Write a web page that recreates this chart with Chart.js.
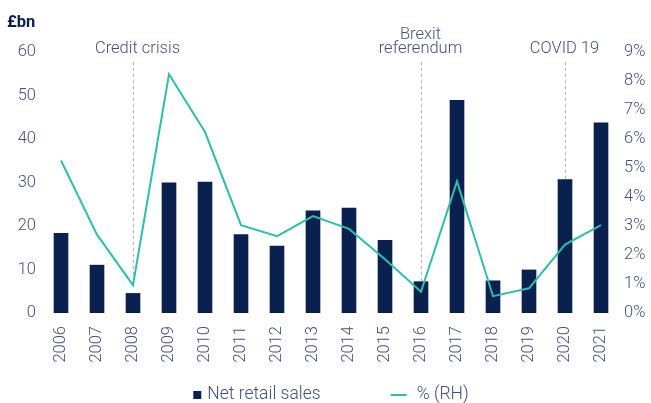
<!DOCTYPE html>
<html>
<head>
<meta charset="utf-8">
<script src="https://cdn.jsdelivr.net/npm/chart.js@4.4.1/dist/chart.umd.min.js"></script>
<style>
  html, body { margin: 0; padding: 0; background: #ffffff; }
  #wrap { width: 651px; height: 403px; position: relative; }
</style>
</head>
<body>
<div id="wrap"><canvas id="chart"></canvas></div>
<script>
// Annual net retail sales (£bn, left axis) and % of assets (right axis)
const years = ['2006', '2007', '2008', '2009', '2010', '2011', '2012', '2013',
               '2014', '2015', '2016', '2017', '2018', '2019', '2020', '2021'];
const netRetailSales = [18.3, 11.0, 4.5, 29.9, 30.1, 18.0, 15.4, 23.5,
                        24.1, 16.7, 7.2, 48.9, 7.4, 9.9, 30.7, 43.7];
const pctRH = [5.26, 2.7, 0.96, 8.23, 6.24, 3.03, 2.65, 3.34,
               2.9, 1.85, 0.73, 4.54, 0.58, 0.85, 2.36, 3.03];

const leftTicks = [0, 10, 20, 30, 40, 50, 60];
const rightTicks = [0, 1, 2, 3, 4, 5, 6, 7, 8, 9];

const eventYears = ['2008', '2016', '2020'];
const eventLabels = [['Credit crisis'], ['Brexit', 'referendum'], ['COVID 19']];

const seriesNames = ['Net retail sales', '% (RH)'];
const unitLabel = '£bn';

const NAVY = '#0a2150';
const TEAL = '#2dbfae';
const TEXT = '#42527e';
const FONT = 'Roboto, "Liberation Sans", sans-serif';
const WEIGHT = 300;

// Dashed event markers with their captions
const eventMarkers = {
  id: 'eventMarkers',
  beforeDatasetsDraw(chart) {
    const { ctx, chartArea, scales } = chart;
    const x = scales.x, yL = scales.y, yR = scales.y1;
    const captionShift = [4, -1, -1];
    ctx.save();
    eventYears.forEach((yr, i) => {
      const idx = years.indexOf(yr);
      const px = Math.round(x.getPixelForValue(idx)) + 0.5;
      const yBar = yL.getPixelForValue(netRetailSales[idx]);
      const yLine = yR.getPixelForValue(pctRH[idx]);
      const yEnd = Math.min(yBar, yLine);
      const yStart = chartArea.top + 10;
      ctx.strokeStyle = '#b3b3b3';
      ctx.lineWidth = 1;
      ctx.setLineDash([3, 3]);
      ctx.beginPath();
      ctx.moveTo(px, yStart);
      ctx.lineTo(px, yEnd);
      ctx.stroke();
      ctx.setLineDash([]);
      ctx.fillStyle = TEXT;
      ctx.font = WEIGHT + ' 16.5px ' + FONT;
      ctx.textAlign = 'center';
      ctx.textBaseline = 'middle';
      const lines = eventLabels[i];
      const lh = 14.5;
      lines.forEach((t, j) => {
        const yy = chartArea.top - 3 - (lines.length - 1 - j) * lh;
        ctx.fillText(t, px + captionShift[i], yy);
      });
    });
    ctx.restore();
  }
};

// Unit label above the left axis and the bottom legend
const extras = {
  id: 'extras',
  afterDraw(chart) {
    const { ctx, chartArea } = chart;
    ctx.save();
    ctx.fillStyle = NAVY;
    ctx.font = 'bold 16.5px ' + FONT;
    ctx.textAlign = 'left';
    ctx.textBaseline = 'middle';
    ctx.fillText(unitLabel, 7, 23);

    // legend
    ctx.font = WEIGHT + ' 17.5px ' + FONT;
    const w0 = ctx.measureText(seriesNames[0]).width;
    const w1 = ctx.measureText(seriesNames[1]).width;
    const total = 8 + 6 + w0 + 70 + 16 + 10 + w1;
    let lx = (chartArea.left + chartArea.right) / 2 - total / 2;
    const ly = 395;
    ctx.fillStyle = NAVY;
    ctx.fillRect(lx, ly - 4, 8, 8);
    lx += 14;
    ctx.fillStyle = TEXT;
    ctx.fillText(seriesNames[0], lx, ly);
    lx += w0 + 70;
    ctx.strokeStyle = TEAL;
    ctx.lineWidth = 2;
    ctx.beginPath();
    ctx.moveTo(lx, ly);
    ctx.lineTo(lx + 16, ly);
    ctx.stroke();
    lx += 26;
    ctx.fillText(seriesNames[1], lx, ly);
    ctx.restore();
  }
};

const tickFont = { family: FONT, size: 16.5, weight: WEIGHT };

new Chart(document.getElementById('chart'), {
  data: {
    labels: years,
    datasets: [
      {
        type: 'line',
        label: seriesNames[1],
        data: pctRH,
        yAxisID: 'y1',
        borderColor: TEAL,
        backgroundColor: TEAL,
        borderWidth: 2,
        pointRadius: 0,
        tension: 0,
        order: 1
      },
      {
        type: 'bar',
        label: seriesNames[0],
        data: netRetailSales,
        yAxisID: 'y',
        backgroundColor: NAVY,
        barThickness: 14,
        order: 2
      }
    ]
  },
  options: {
    responsive: true,
    maintainAspectRatio: false,
    animation: false,
    layout: { padding: { top: 52, left: 0, right: 0, bottom: 0 } },
    plugins: { legend: { display: false }, tooltip: { enabled: false } },
    scales: {
      x: {
        offset: true,
        grid: { display: false, drawTicks: false },
        border: { display: false },
        ticks: {
          color: TEXT, font: tickFont,
          minRotation: 90, maxRotation: 90, padding: 13, autoSkip: false
        },
        afterFit(s) { s.height = 90; }
      },
      y: {
        position: 'left',
        min: 0, max: 60,
        afterBuildTicks(s) { s.ticks = leftTicks.map(v => ({ value: v })); },
        grid: { display: false, drawTicks: false },
        border: { display: false },
        ticks: { color: TEXT, font: tickFont, padding: 7 },
        afterFit(s) { s.width = 43; }
      },
      y1: {
        position: 'right',
        min: 0, max: 9,
        afterBuildTicks(s) { s.ticks = rightTicks.map(v => ({ value: v })); },
        grid: { display: false, drawTicks: false },
        border: { display: false },
        ticks: {
          color: TEXT, font: tickFont, padding: 5,
          callback: v => v + '%'
        },
        afterFit(s) { s.width = 32; }
      }
    }
  },
  plugins: [eventMarkers, extras]
});
</script>
</body>
</html>
